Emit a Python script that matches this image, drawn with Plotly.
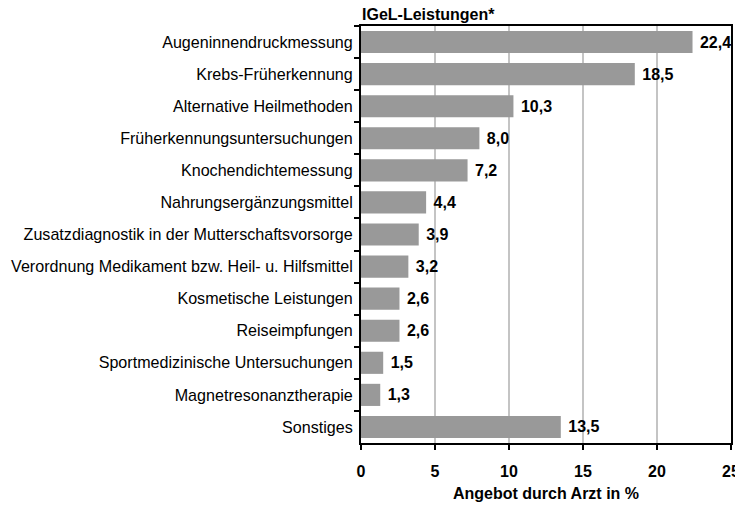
import plotly.graph_objects as go

categories = [
    "Augeninnendruckmessung",
    "Krebs-Früherkennung",
    "Alternative Heilmethoden",
    "Früherkennungsuntersuchungen",
    "Knochendichtemessung",
    "Nahrungsergänzungsmittel",
    "Zusatzdiagnostik in der Mutterschaftsvorsorge",
    "Verordnung Medikament bzw. Heil- u. Hilfsmittel",
    "Kosmetische Leistungen",
    "Reiseimpfungen",
    "Sportmedizinische Untersuchungen",
    "Magnetresonanztherapie",
    "Sonstiges",
]
values = [22.4, 18.5, 10.3, 8.0, 7.2, 4.4, 3.9, 3.2, 2.6, 2.6, 1.5, 1.3, 13.5]
x_ticks = [0, 5, 10, 15, 20, 25]

FONT = "Liberation Sans, Arial, sans-serif"

fig = go.Figure(go.Bar(
    x=values,
    y=categories,
    orientation="h",
    marker=dict(color="#999999", line=dict(width=0)),
    texttemplate="\u00a0<b>%{x:.1f}</b>",
    textposition="outside",
    textfont=dict(family=FONT, size=16, color="#000000"),
    cliponaxis=False,
))

# page body has an 8px default margin, so the figure is 8px smaller
fig.update_layout(
    width=735, height=497,
    margin=dict(l=353, r=12, t=18, b=62),
    paper_bgcolor="white", plot_bgcolor="white",
    separators=",.",
    bargap=0.31,
    showlegend=False,
    font=dict(family=FONT, size=16, color="#000000"),
    annotations=[dict(
        text="<b>IGeL-Leistungen*</b>", x=0, y=1, xref="paper", yref="paper",
        xanchor="left", yanchor="middle", yshift=11.5, borderpad=0,
        showarrow=False,
        font=dict(family=FONT, size=16, color="#000000"),
    )],
)
fig.update_xaxes(
    range=[0, 25], tickvals=x_ticks,
    ticktext=[f"<b>{v}</b>" for v in x_ticks],
    showgrid=True, gridcolor="#c4c4c4", gridwidth=1.5,
    showline=True, linecolor="#000000", linewidth=2, mirror=True,
    ticks="outside", ticklen=5, tickcolor="#000000", tickwidth=2,
    ticklabelstandoff=8,
    zeroline=False, automargin=False,
    title=dict(text="<b>Angebot durch Arzt in %</b>", standoff=9,
               font=dict(family=FONT, size=16)),
    tickfont=dict(family=FONT, size=16),
)
fig.update_yaxes(
    categoryorder="array", categoryarray=categories,
    autorange="reversed",
    showline=True, linecolor="#000000", linewidth=2, mirror=True,
    ticks="outside", ticklen=5, tickcolor="#000000", tickwidth=2,
    tickson="boundaries", automargin=False,
    ticklabelstandoff=3,
    showgrid=False,
    tickfont=dict(family=FONT, size=16.1),
)

fig.write_html("out.html")
